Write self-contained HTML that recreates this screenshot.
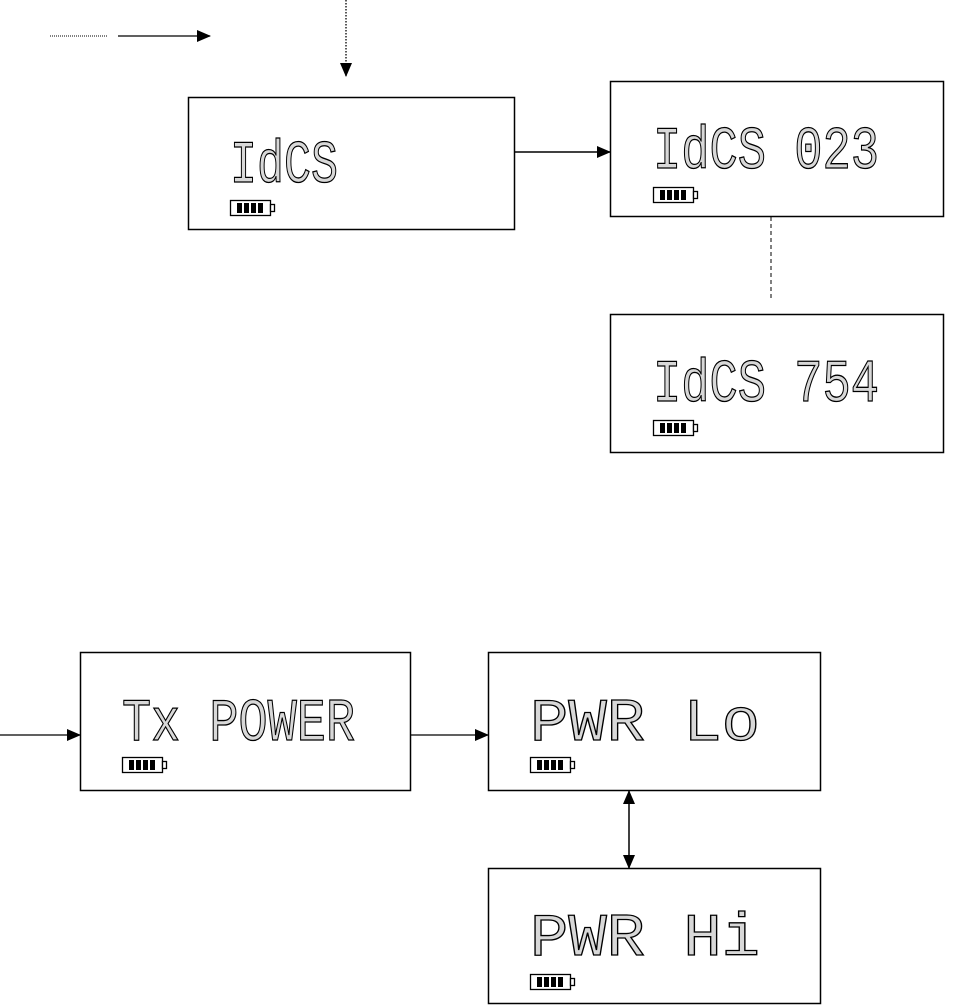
<!DOCTYPE html>
<html><head><meta charset="utf-8"><style>
html,body{margin:0;padding:0;background:#fff;}
svg{display:block;}
.lcd{font-family:"Liberation Mono",monospace;font-size:60px;fill:#d8d8d8;stroke:#000;stroke-width:1.3;}
</style></head><body>
<svg width="980" height="1006" viewBox="0 0 980 1006" xmlns="http://www.w3.org/2000/svg">
<defs>
<marker id="ah" markerWidth="14" markerHeight="12" refX="13" refY="6" orient="auto" markerUnits="userSpaceOnUse">
<path d="M0,0 L14,6 L0,12 Z" fill="#000"/></marker>
<marker id="ahs" markerWidth="14" markerHeight="12" refX="1" refY="6" orient="auto" markerUnits="userSpaceOnUse">
<path d="M14,0 L0,6 L14,12 Z" fill="#000"/></marker>
<g id="bat">
<rect x="0.5" y="0.5" width="40" height="15" fill="#fff" stroke="#000" stroke-width="1.3"/>
<rect x="40.5" y="4.5" width="4" height="7" fill="#fff" stroke="#000" stroke-width="1.3"/>
<rect x="7" y="3" width="5" height="10" fill="#000"/>
<rect x="14" y="3" width="5" height="10" fill="#000"/>
<rect x="21" y="3" width="5" height="10" fill="#000"/>
<rect x="28" y="3" width="5" height="10" fill="#000"/>
</g>
</defs>
<!-- legend -->
<line x1="50" y1="36" x2="107" y2="36" stroke="#000" stroke-width="1" stroke-dasharray="1,1"/>
<line x1="118" y1="36" x2="210" y2="36" stroke="#000" stroke-width="1.3" marker-end="url(#ah)"/>
<line x1="346" y1="0" x2="346" y2="76" stroke="#000" stroke-width="1.3" stroke-dasharray="1.5,1.5" marker-end="url(#ah)"/>
<!-- box1 -->
<rect x="188.5" y="97.5" width="326" height="132" fill="none" stroke="#000" stroke-width="1.5"/>
<text class="lcd" x="230" y="182" textLength="108" lengthAdjust="spacingAndGlyphs">IdCS</text>
<use href="#bat" x="230" y="200"/>
<line x1="514" y1="152" x2="610" y2="152" stroke="#000" stroke-width="1.5" marker-end="url(#ah)"/>
<!-- box2 -->
<rect x="610.5" y="81.5" width="333" height="135" fill="none" stroke="#000" stroke-width="1.5"/>
<text class="lcd" x="653" y="168" textLength="226" lengthAdjust="spacingAndGlyphs">IdCS 023</text>
<use href="#bat" x="653" y="187"/>
<line x1="771" y1="217" x2="771" y2="298" stroke="#000" stroke-width="1" stroke-dasharray="4,3"/>
<!-- box3 -->
<rect x="610.5" y="314.5" width="333" height="138" fill="none" stroke="#000" stroke-width="1.5"/>
<text class="lcd" x="653" y="401" textLength="226" lengthAdjust="spacingAndGlyphs">IdCS 754</text>
<use href="#bat" x="653" y="420"/>
<!-- box4 -->
<line x1="0" y1="735" x2="80" y2="735" stroke="#000" stroke-width="1.3" marker-end="url(#ah)"/>
<rect x="80.5" y="652.5" width="330" height="138" fill="none" stroke="#000" stroke-width="1.5"/>
<text class="lcd" x="122" y="740" textLength="233" lengthAdjust="spacingAndGlyphs">Tx POWER</text>
<use href="#bat" x="122" y="757"/>
<line x1="410" y1="735" x2="488" y2="735" stroke="#000" stroke-width="1.3" marker-end="url(#ah)"/>
<!-- box5 -->
<rect x="488.5" y="652.5" width="332" height="138" fill="none" stroke="#000" stroke-width="1.5"/>
<text class="lcd" x="530" y="740" textLength="230" lengthAdjust="spacingAndGlyphs">PWR   Lo</text>
<use href="#bat" x="530" y="757"/>
<line x1="629" y1="791" x2="629" y2="868" stroke="#000" stroke-width="1.5" marker-start="url(#ahs)" marker-end="url(#ah)"/>
<!-- box6 -->
<rect x="488.5" y="868.5" width="332" height="135" fill="none" stroke="#000" stroke-width="1.5"/>
<text class="lcd" x="530" y="955" textLength="230" lengthAdjust="spacingAndGlyphs">PWR   Hi</text>
<use href="#bat" x="530" y="974"/>
</svg>
</body></html>
